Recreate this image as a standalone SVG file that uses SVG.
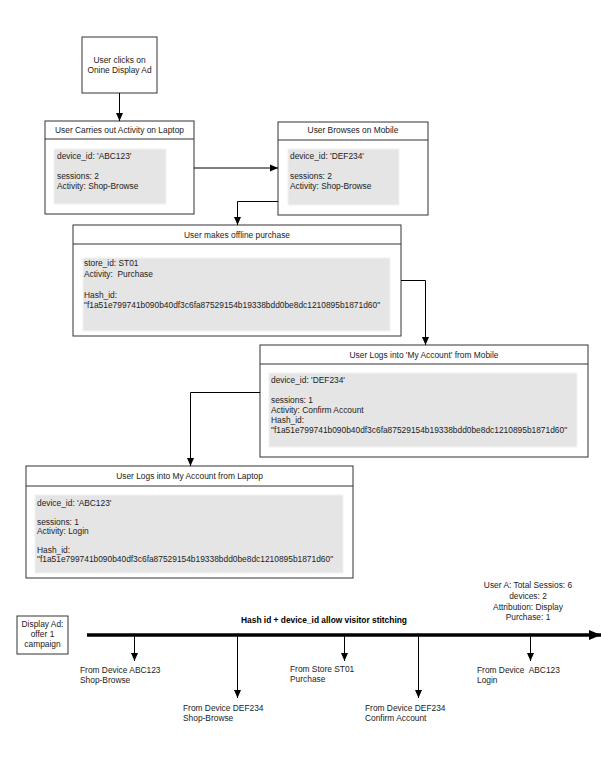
<svg xmlns="http://www.w3.org/2000/svg" width="601" height="762" viewBox="0 0 601 762">
<defs>
<style>
text{font-family:"Liberation Sans",Arial,sans-serif;font-size:8.4px;fill:#222;white-space:pre}
.c{text-anchor:middle}
.b{font-weight:bold;fill:#000}
.box{fill:#fff;stroke:#333;stroke-width:1}
.in{fill:#e5e5e5;stroke:#f2f2f2;stroke-width:1}
.ln{fill:none;stroke:#000;stroke-width:1}
</style>
<marker id="ah" viewBox="0 0 8 8" refX="8" refY="4" markerWidth="8" markerHeight="8" markerUnits="userSpaceOnUse" orient="auto"><path d="M0,0.5L8,4L0,7.5z" fill="#000"/></marker>
<marker id="big" viewBox="0 0 12 12" refX="12" refY="6" markerWidth="12" markerHeight="12" markerUnits="userSpaceOnUse" orient="auto"><path d="M0,1L12,6L0,11z" fill="#000"/></marker>
</defs>
<rect width="601" height="762" fill="#fff"/>

<g id="n1">
<rect class="box" x="82" y="37" width="75" height="56"/>
<text class="c" x="119.5" y="63">User clicks on</text>
<text class="c" x="119.5" y="73">Onine Display Ad</text>
</g>

<g id="n2">
<rect class="box" x="45" y="121" width="149" height="93"/>
<line x1="45" y1="139" x2="194" y2="139" stroke="#333"/>
<text class="c" x="119.5" y="133">User Carries out Activity on Laptop</text>
<rect class="in" x="54" y="149" width="112" height="55"/>
<text x="57" y="159">device_id: 'ABC123'</text>
<text x="57" y="179">sessions: 2</text>
<text x="57" y="189">Activity: Shop-Browse</text>
</g>

<g id="n3">
<rect class="box" x="278" y="122" width="150" height="93"/>
<line x1="278" y1="140" x2="428" y2="140" stroke="#333"/>
<text class="c" x="353" y="133">User Browses on Mobile</text>
<rect class="in" x="288" y="149" width="111" height="56"/>
<text x="290" y="159">device_id: 'DEF234'</text>
<text x="290" y="179">sessions: 2</text>
<text x="290" y="189">Activity: Shop-Browse</text>
</g>

<g id="n4">
<rect class="box" x="73" y="225" width="328" height="111"/>
<line x1="73" y1="244" x2="401" y2="244" stroke="#333"/>
<text class="c" x="237" y="238">User makes offline purchase</text>
<rect class="in" x="83" y="258" width="307" height="73"/>
<text x="84" y="266">store_id: ST01</text>
<text x="84" y="277" xml:space="preserve">Activity:  Purchase</text>
<text x="84" y="298">Hash_id:</text>
<text x="84" y="308">"f1a51e799741b090b40df3c6fa87529154b19338bdd0be8dc1210895b1871d60"</text>
</g>

<g id="n5">
<rect class="box" x="260" y="345" width="328" height="112"/>
<line x1="260" y1="364" x2="588" y2="364" stroke="#333"/>
<text class="c" x="424" y="358">User Logs into 'My Account' from Mobile</text>
<rect class="in" x="269" y="373" width="308" height="74"/>
<text x="271" y="383">device_id: 'DEF234'</text>
<text x="271" y="403">sessions: 1</text>
<text x="271" y="413">Activity: Confirm Account</text>
<text x="271" y="423">Hash_id:</text>
<text x="271" y="433">"f1a51e799741b090b40df3c6fa87529154b19338bdd0be8dc1210895b1871d60"</text>
</g>

<g id="n6">
<rect class="box" x="26" y="466" width="327" height="112"/>
<line x1="26" y1="486" x2="353" y2="486" stroke="#333"/>
<text class="c" x="189.5" y="479">User Logs into My Account from Laptop</text>
<rect class="in" x="35" y="495" width="308" height="78"/>
<text x="37" y="506">device_id: 'ABC123'</text>
<text x="37" y="525">sessions: 1</text>
<text x="37" y="534">Activity: Login</text>
<text x="37" y="553">Hash_id:</text>
<text x="37" y="562">"f1a51e799741b090b40df3c6fa87529154b19338bdd0be8dc1210895b1871d60"</text>
</g>

<g id="ad">
<rect class="box" x="17" y="616" width="51" height="38"/>
<text class="c" x="42.5" y="627">Display Ad:</text>
<text class="c" x="42.5" y="637">offer 1</text>
<text class="c" x="42.5" y="647">campaign</text>
</g>

<g id="summary">
<text class="c" x="528" y="588">User A: Total Sessios: 6</text>
<text class="c" x="528" y="599">devices: 2</text>
<text class="c" x="528" y="610">Attribution: Display</text>
<text class="c" x="528" y="620">Purchase: 1</text>
</g>

<g id="timeline-labels">
<text class="c b" x="324" y="623">Hash id + device_id allow visitor stitching</text>
<text x="80" y="673">From Device ABC123</text>
<text x="80" y="683">Shop-Browse</text>
<text x="183" y="711">From Device DEF234</text>
<text x="183" y="721">Shop-Browse</text>
<text x="290" y="672">From Store ST01</text>
<text x="290" y="682">Purchase</text>
<text x="365" y="711">From Device DEF234</text>
<text x="365" y="721">Confirm Account</text>
<text x="477" y="673" xml:space="preserve">From Device  ABC123</text>
<text x="477" y="683">Login</text>
</g>

<g id="connectors">
<line class="ln" x1="119.5" y1="93" x2="119.5" y2="121" marker-end="url(#ah)"/>
<line class="ln" x1="194" y1="168" x2="278" y2="168" marker-end="url(#ah)"/>
<polyline class="ln" points="278,201.5 237.5,201.5 237.5,225" marker-end="url(#ah)"/>
<polyline class="ln" points="401,280.5 425.5,280.5 425.5,345" marker-end="url(#ah)"/>
<polyline class="ln" points="260,392.5 190.5,392.5 190.5,466" marker-end="url(#ah)"/>
<line x1="87" y1="635" x2="601" y2="635" stroke="#000" stroke-width="3.5" marker-end="url(#big)"/>
<line class="ln" x1="134.5" y1="636" x2="134.5" y2="661" marker-end="url(#ah)"/>
<line class="ln" x1="237.5" y1="636" x2="237.5" y2="698" marker-end="url(#ah)"/>
<line class="ln" x1="344.5" y1="636" x2="344.5" y2="661" marker-end="url(#ah)"/>
<line class="ln" x1="418.5" y1="636" x2="418.5" y2="698" marker-end="url(#ah)"/>
<line class="ln" x1="530.5" y1="636" x2="530.5" y2="661" marker-end="url(#ah)"/>
</g>
</svg>
